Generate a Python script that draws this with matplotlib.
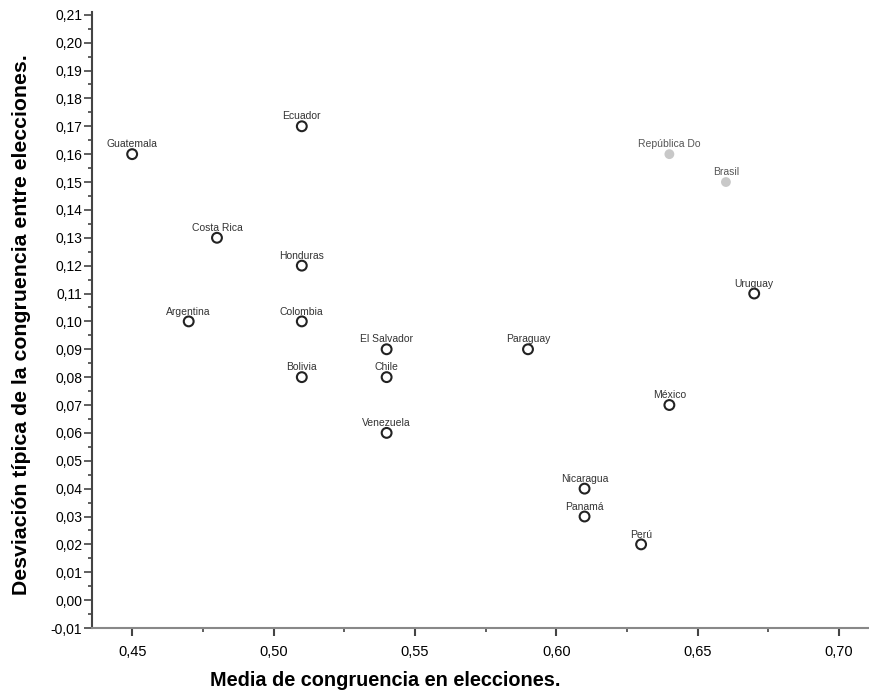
import matplotlib
matplotlib.use('Agg')
import matplotlib.pyplot as plt
from matplotlib.ticker import MultipleLocator, FuncFormatter

plt.rcParams['font.family'] = ['Liberation Sans', 'DejaVu Sans']

# datos
paises = ['Guatemala', 'Ecuador', 'Costa Rica', 'Honduras', 'Argentina', 'Colombia',
          'El Salvador', 'Bolivia', 'Chile', 'Venezuela', 'Paraguay', 'México',
          'Nicaragua', 'Panamá', 'Perú', 'Uruguay']
media = [0.45, 0.51, 0.48, 0.51, 0.47, 0.51, 0.54, 0.51, 0.54, 0.54, 0.59, 0.64,
         0.61, 0.61, 0.63, 0.67]
desviacion = [0.16, 0.17, 0.13, 0.12, 0.10, 0.10, 0.09, 0.08, 0.08, 0.06, 0.09, 0.07,
              0.04, 0.03, 0.02, 0.11]

# casos en gris
paises_gris = ['República Do', 'Brasil']
media_gris = [0.64, 0.66]
desviacion_gris = [0.16, 0.15]

fig = plt.figure(figsize=(8.69, 6.96), dpi=100)
ax = fig.add_axes([92 / 869, 1 - 628 / 696, 1 - 92 / 869, (628 - 12) / 696])

ax.scatter(media, desviacion, s=50, facecolors='none', edgecolors='#222222',
           linewidths=1.5, zorder=3)
ax.scatter(media_gris, desviacion_gris, s=50, color='#c8c8c8', edgecolors='none', zorder=3)

for nombre, x, y in zip(paises + paises_gris, media + media_gris, desviacion + desviacion_gris):
    color = '#333333' if nombre in paises else '#555555'
    ax.annotate(nombre, (x, y), xytext=(0, 3.5), textcoords='offset points',
                ha='center', va='bottom', fontsize=7.5, color=color)

ax.set_xlim(0.4358, 0.7106)
ax.set_ylim(-0.01, 0.211)

ax.xaxis.set_major_locator(MultipleLocator(0.05))
ax.xaxis.set_minor_locator(MultipleLocator(0.025))
ax.yaxis.set_major_locator(MultipleLocator(0.01))
ax.yaxis.set_minor_locator(MultipleLocator(0.005))
coma = FuncFormatter(lambda v, p: f'{v:.2f}'.replace('.', ','))
ax.xaxis.set_major_formatter(coma)
ax.yaxis.set_major_formatter(FuncFormatter(lambda v, p: f'{v:.2f}'.replace('.', ',').replace('-0,00', '0,00')))

ax.spines['top'].set_visible(False)
ax.spines['right'].set_visible(False)
ax.spines['left'].set_color('#444444')
ax.spines['bottom'].set_color('#888888')
ax.spines['left'].set_linewidth(1.5)
ax.spines['bottom'].set_linewidth(1.5)

ax.tick_params(axis='y', which='major', length=6, width=1.2, labelsize=10, pad=1, color='#444444')
ax.tick_params(axis='y', which='minor', length=3, width=1.2, color='#444444')
ax.tick_params(axis='x', which='major', length=6, width=1.5, labelsize=10.5, pad=6, color='#444444')
ax.tick_params(axis='x', which='minor', length=3, width=1.2, color='#444444')

ax.set_xlabel('Media de congruencia en elecciones.', fontsize=14.3, fontweight='bold')
ax.set_ylabel('Desviación típica de la congruencia entre elecciones.', fontsize=15.3,
              fontweight='bold')
ax.xaxis.set_label_coords(0.378, -0.069)
ax.yaxis.set_label_coords(-0.0785, 0.492)

fig.savefig('out.png', dpi=100)
